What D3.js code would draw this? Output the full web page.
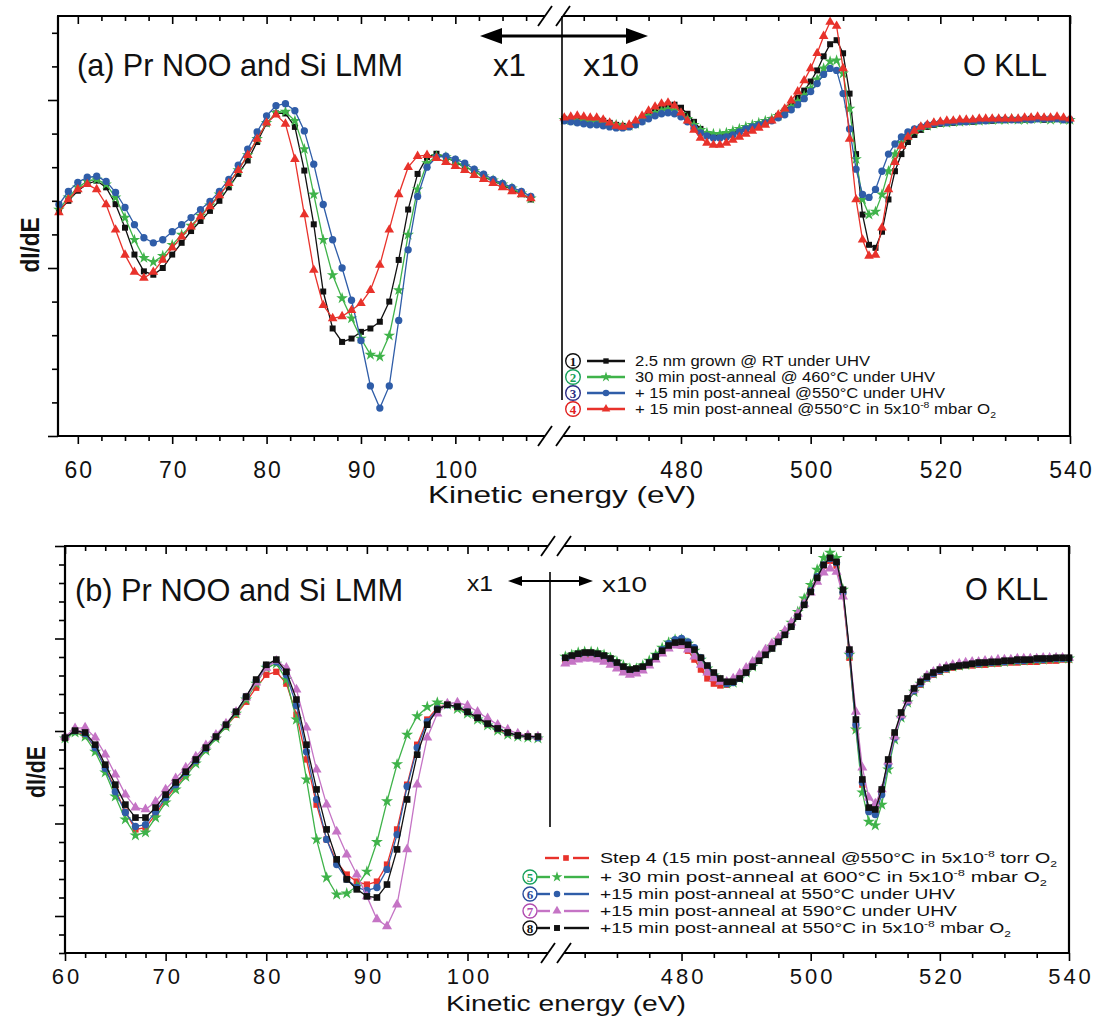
<!DOCTYPE html>
<html><head><meta charset="utf-8">
<script src="https://cdn.jsdelivr.net/npm/d3@7"></script>
<style>body{margin:0;background:#fff}svg{display:block}</style>
</head><body>
<svg id="chart" width="1095" height="1021"></svg>
<script>
// ---------------- DATA ----------------
// Energies (eV)
const energyLowA = [58,59,60,61,62,63,64,65,66,67,68,69,70,71,72,73,74,75,76,77,78,79,80,81,82,83,84,85,86,87,88,89,90,91,92,93,94,95,96,97,98,99,100,101,102,103,104,105,106,107,108];
const energyLowB = [60,61,62,63,64,65,66,67,68,69,70,71,72,73,74,75,76,77,78,79,80,81,82,83,84,85,86,87,88,89,90,91,92,93,94,95,96,97,98,99,100,101,102,103,104,105,106,107];
const energyHigh = [462,463,464,465,466,467,468,469,470,471,472,473,474,475,476,477,478,479,480,481,482,483,484,485,486,487,488,489,490,491,492,493,494,495,496,497,498,499,500,501,502,503,504,505,506,507,508,509,510,511,512,513,514,515,516,517,518,519,520,521,522,523,524,525,526,527,528,529,530,531,532,533,534,535,536,537,538,539,540];

// Panel (a) dI/dE (a.u.), Pr NOO / Si LMM region (x1)
const a1Low = [17,20,23,25,26,24,19,12,4,-1,-2,0,4,7.5,11,14,17,20,24,28,32,37.5,43,46,46,42,29,13,-7,-18,-22,-21,-19,-18,-16,-10,2.4,17.4,28,33,34,33,31.5,30,29,27,26,24.6,23.4,22,20.4];
const a2Low = [17.4,21,24,25.8,26.4,24.9,21,15,8.4,3,1.8,3.6,6.9,9.9,12.6,15.6,18.6,21.9,25.2,29.1,33.6,38.4,43.2,46.2,46.5,43.8,35.4,21.9,8.4,-2.1,-9,-15,-21,-25.8,-26.4,-20.1,-6.6,9.9,23.4,31.2,33.3,33,31.8,30.3,28.8,27.3,26.1,24.9,23.7,22.2,20.7];
const a3Low = [18.9,22.8,25.5,27,27.3,25.8,22.5,18,12.9,9,7.5,8.4,10.8,12.9,15,17.4,19.8,22.8,26.4,30.6,35.4,40.5,45.3,48.3,48.9,46.8,40.8,30.9,18.9,8.4,0,-9.6,-21.6,-35.1,-41.7,-35.1,-15.6,5.4,21.3,30,33,33.3,32.4,31.2,29.4,27.9,26.4,25.2,24,22.8,21.3];
const a4Low = [16.5,20.4,23.4,24.9,23.4,18.9,11.4,3.9,-1.2,-3,-1.2,2.4,6,9.3,12.3,15.3,18.3,21.6,25.2,29.1,33.6,38.4,43.2,45.6,42.9,32.4,15.9,-0.6,-11.1,-15,-14.4,-12.6,-10.5,-6.6,0.9,11.4,21.9,30,33.3,33.6,32.7,31.5,30.3,29.1,27.6,26.4,25.2,24,22.8,21.9,20.7];
// Panel (a) O KLL region (x10)
const a1High = [44.4,44.1,44.4,44.1,43.8,44.1,43.8,43.2,42.6,42.3,42,42.9,44.4,45.9,47.1,48,48.6,48.6,47.7,45.9,43.5,41.4,39.9,39.3,39.3,39.6,40.2,40.8,41.4,42,42.6,43.2,44.1,45.3,46.8,48.6,50.7,52.8,55.5,58.8,63,66.6,67.8,63.9,51.9,33.9,15.9,6.9,6,10.8,20.4,28.8,33.9,37.5,39.6,41.1,42,42.6,42.9,43.2,43.2,43.5,43.5,43.5,43.8,43.8,43.8,44.1,44.1,44.1,44.1,44.1,44.4,44.4,44.1,44.4,44.4,44.1,44.1];
const a2High = [44.1,44.1,43.8,43.8,43.5,43.5,43.2,42.9,42.6,42.3,42.3,42.9,44.1,45.3,46.2,46.8,47.1,46.8,45.9,44.4,42.6,41.1,40.2,39.9,39.9,40.2,40.8,41.4,42,42.6,43.2,43.8,44.4,45.3,46.5,48,49.5,51.3,53.4,56.1,59.4,61.5,61.8,57.9,47.4,32.4,20.4,15.9,16.8,21.9,28.8,33.9,37.2,39.3,40.8,41.7,42.3,42.9,43.2,43.2,43.5,43.5,43.8,43.8,43.8,44.1,44.1,44.1,44.1,44.4,44.1,44.1,44.4,44.4,44.4,44.1,44.4,44.1,44.1];
const a3High = [43.8,43.5,43.2,42.9,42.6,42.6,42.3,42,41.7,41.7,42,42.6,43.5,44.4,45.3,45.9,46.2,45.9,45,43.5,41.7,40.2,39.3,38.7,38.7,39,39.6,40.5,41.4,42,42.6,43.2,43.8,44.7,45.6,47.1,48.6,50.4,52.5,54.9,57.6,59.4,58.8,51.9,41.4,29.4,21.9,21,23.4,28.8,33.9,36.9,39,40.5,41.4,42,42.6,42.9,43.2,43.2,43.5,43.5,43.5,43.8,43.8,43.8,44.1,44.1,44.1,44.1,44.1,44.4,44.1,44.4,44.4,44.4,44.4,44.1,44.1];
const a4High = [44.7,45,45.3,45,44.7,44.7,44.1,43.2,42.3,42,42.6,43.8,45.3,46.8,48,48.9,49.2,48.3,46.2,43.8,41.1,38.7,37.2,36.6,36.6,37.2,38.1,39,39.9,40.8,41.7,42.6,43.8,45.6,47.4,49.8,52.5,55.8,59.4,63.9,69,73.2,72,59.4,38.4,20.4,8.4,3.6,3.9,12,23.4,31.5,36.3,39,40.8,42,42.6,43.2,43.5,43.8,43.8,44.1,44.1,44.1,44.4,44.4,44.4,44.4,44.4,44.4,44.4,44.7,44.7,45,44.7,44.7,45,44.7,44.4];

// Panel (b)
const b4Low = [23,24.8,24,20.5,15.1,9.2,3.2,-1.6,-1.1,2.4,6.5,10,13.2,16.7,20,23.2,26.2,29.4,32.9,36.7,40.2,41,37.8,29.4,17.3,5.1,-4.3,-10.3,-13.8,-15.7,-16.5,-15.7,-11.1,-1.6,10.5,21.3,28.1,31.3,32.1,31.3,30,28.4,26.7,25.4,24.3,23.8,23.5,23.2];
const b5Low = [23,24.6,23.5,19.4,13.8,7.3,1.1,-3.2,-2.4,1.6,5.7,9.2,12.7,16.2,19.7,23,26.2,29.7,33.5,37.8,42.1,43.2,38.9,28.1,11.9,-4.3,-14.6,-19.2,-18.9,-17,-13,-5,6,16,24,29,31.5,32.7,32.1,31,29.7,28.1,26.5,25.1,24,23.5,23.2,23];
const b6Low = [23.2,25.1,24.3,20.5,14.9,8.6,3,-0.8,-0.3,3.2,7,10.5,13.8,17,20.3,23.5,26.7,30.2,34.3,38.6,42.7,43.7,40.2,31.9,19.4,6.5,-4.3,-11.1,-15.1,-17.3,-18.1,-17.3,-12.4,-3,10,20.5,27.5,31,32.1,31.6,30.2,28.6,27,25.7,24.6,23.8,23.5,23.2];
const b7Low = [23.5,25.7,25.9,23.2,18.6,13.2,7.8,4.3,3.8,5.9,9.2,12.2,15.1,18.1,21.1,24,27,30.2,34,38.1,42.1,44,42.1,36.2,25.9,14.6,5.1,-2.2,-8.4,-13.8,-19.7,-25.9,-27.8,-21.9,-7,10.5,23.2,29.7,32.4,32.7,31.9,30.2,28.4,26.7,25.4,24.3,23.8,23.5];
const b8Low = [23.2,25.1,24.6,21.3,15.9,10.5,5.1,1.6,1.6,4.3,7.8,11.1,14,17.3,20.5,23.5,26.7,30.2,34.3,38.9,42.9,44.3,41,33.5,21.3,9.2,-1.6,-9.7,-15.1,-17.8,-19.7,-20,-16.5,-7,6.5,18.6,26.7,30.8,32.1,31.6,30.2,28.6,27,25.7,24.6,23.8,23.5,23.5];
const b4High = [44.3,44.8,45.1,45.4,45.4,45.1,44.6,43.7,42.7,41.6,40.8,41,42.1,43.2,44.8,46.4,47.8,48.3,48.1,46.7,44.3,41.6,39.2,37.8,37.3,37.5,38.3,39.4,41,42.7,44.3,45.9,47.8,49.7,51.6,53.7,56.4,59.7,63.2,66.7,69.7,71,69.7,61.6,44.8,25.9,10.5,3.8,3.5,8.6,16.7,23.8,29.2,32.9,35.6,37.5,39.2,40.2,41,41.6,42.1,42.4,42.7,42.7,42.9,42.9,43.2,43.2,43.5,43.5,43.5,43.7,43.7,43.7,44,44,44,44.3,44.3];
const b5High = [45.1,45.6,46.2,46.4,46.4,46.2,45.6,44.8,43.7,42.7,41.9,41.9,42.7,44,45.6,47.5,48.9,49.7,49.7,48.6,46.7,44.3,41.9,40,38.6,37.8,38.1,39.2,40.8,42.4,44.3,45.9,47.8,49.7,51.8,54.3,57.2,60.8,64.5,68.6,71.8,73.2,71.8,63.2,45.6,25.4,8.4,0.5,-0.5,5.1,14.6,22.7,28.6,32.7,35.6,37.8,39.4,40.5,41.3,41.9,42.4,42.7,42.9,43.2,43.2,43.5,43.5,43.7,43.7,44,44,44,44.3,44.3,44.3,44.6,44.6,44.6,44.6];
const b6High = [44.6,45.1,45.6,45.9,45.9,45.6,45.1,44.3,43.2,42.1,41.3,41.3,42.1,43.5,45.1,47,48.6,49.7,50,49.1,47.5,44.8,42.4,40.2,38.6,37.8,38.1,39.2,40.8,42.7,44.3,45.9,47.5,49.4,51.3,53.5,56.2,59.4,62.9,66.7,69.9,71.6,70.5,62.4,45.9,26.7,11.1,3.2,2.4,7.8,15.9,23.2,28.9,32.9,35.9,37.8,39.4,40.5,41.3,41.9,42.4,42.7,42.9,43.2,43.2,43.5,43.5,43.7,43.7,44,44,44,44.3,44.3,44.3,44.6,44.6,44.6,44.6];
const b7High = [43.2,43.7,44.3,44.6,44.6,44.3,43.7,42.9,41.9,40.8,40.2,40.5,41.3,42.7,44.3,45.9,47.3,48.1,48.1,47,45.1,42.9,40.8,39.2,38.3,38.3,39.2,40.5,42.1,43.7,45.4,47,48.6,50.2,52.1,54.3,56.7,59.4,62.4,65.3,67.8,68.9,68,61.3,47,30.2,15.1,7,5.4,9.2,16.7,23.5,29.2,33.2,36.2,38.3,40,41,41.9,42.4,42.9,43.2,43.5,43.7,43.7,44,44,44.3,44.3,44.3,44.6,44.6,44.6,44.6,44.8,44.8,44.8,44.8,44.8];
const b8High = [44.8,45.4,45.9,46.2,46.2,45.9,45.4,44.6,43.5,42.4,41.6,41.9,42.4,43.5,45.1,46.7,48.1,48.9,49.1,48.3,47,44.8,42.7,40.8,39.2,38.3,38.3,39.2,40.8,42.4,44,45.6,47.3,49.1,51,53.2,55.9,59.1,62.6,66.4,69.9,71.8,70.7,63.2,47,28.1,11.9,4.3,3.8,9.2,17.3,24.6,30,33.8,36.5,38.3,39.7,40.8,41.6,42.1,42.4,42.7,42.9,43.2,43.5,43.5,43.7,43.7,44,44,44.3,44.3,44.3,44.6,44.6,44.6,44.8,44.8,44.8];

// Tick values
const xMajorLowA = [60,70,80,90,100];
const xMinorLowA = [62.5,65,67.5,72.5,75,77.5,82.5,85,87.5,92.5,95,97.5,102.5,105,107.5];
const xMajorLowB = [60,70,80,90,100];
const xMinorLowB = [62,64,66,68,72,74,76,78,82,84,86,88,92,94,96,98,102,104,106];
const xMajorHigh = [480,500,520,540];
const xMinorHigh = [465,470,475,485,490,495,505,510,515,525,530,535];
const yMajorA = [-50,0,50];
const yMinorA = [-40,-30,-20,-10,10,20,30,40,60,70];
const yMajorB = [-25,0,25,50,75];
const yMinorB = [-35,-30,-20,-15,-10,-5,5,10,15,20,30,35,40,45,55,60,65,70];

// Legend labels
const legendA = [
  [["2.5 nm grown @ RT under UHV","n"]],
  [["30 min post-anneal @ 460°C under UHV","n"]],
  [["+ 15 min post-anneal @550°C under UHV","n"]],
  [["+ 15 min post-anneal @550°C  in 5x10","n"],["-8","sup"],[" mbar O","n"],["2","sub"]]
];
const legendB = [
  [["Step 4 (15 min post-anneal @550°C  in 5x10","n"],["-8","sup"],[" torr O","n"],["2","sub"]],
  [["+ 30 min post-anneal at 600°C in 5x10","n"],["-8","sup"],[" mbar O","n"],["2","sub"]],
  [["+15 min post-anneal at 550°C under UHV","n"]],
  [["+15 min post-anneal at 590°C under UHV","n"]],
  [["+15 min post-anneal at 550°C in 5x10","n"],["-8","sup"],[" mbar O","n"],["2","sub"]]
];
const stepNumbersA = ["1","2","3","4"];
const stepNumbersB = ["", "5","6","7","8"];

// ---------------- DRAWING ----------------
const svg = d3.select("#chart");
const FONT = "'Liberation Sans', Arial, Helvetica, sans-serif";
const SERIF = "'Liberation Serif', 'Times New Roman', serif";
const C = {black:"#111111", green:"#3fb34a", blue:"#2f5da8", red:"#e8322b", magenta:"#c574c5"};

const panelA = {
  top:16, bottom:436, left:58, right:1070, breakL:545, breakR:563,
  xDomL:[57.9,109.5], xDomR:[461.8,540], yDom:[-50,75],
  xMajL:xMajorLowA, xMinL:xMinorLowA, yMaj:yMajorA, yMin:yMinorA,
  eLow:energyLowA, labelY:478, labelSpacing:2, labelSize:23,
  series:[
    {low:a1Low, high:a1High, color:C.black, sym:d3.symbolSquare, size:36},
    {low:a2Low, high:a2High, color:C.green, sym:d3.symbolStar, size:42},
    {low:a3Low, high:a3High, color:C.blue, sym:d3.symbolCircle, size:42},
    {low:a4Low, high:a4High, color:C.red, sym:d3.symbolTriangle, size:40}
  ]
};
const panelB = {
  top:546, bottom:953, left:65, right:1069, breakL:548, breakR:564,
  xDomL:[60,108], xDomR:[461.8,540], yDom:[-35,75],
  xMajL:xMajorLowB, xMinL:xMinorLowB, yMaj:yMajorB, yMin:yMinorB,
  eLow:energyLowB, labelY:984, labelSpacing:3, labelSize:22,
  series:[
    {low:b4Low, high:b4High, color:C.red, sym:d3.symbolSquare, size:40},
    {low:b5Low, high:b5High, color:C.green, sym:d3.symbolStar, size:45},
    {low:b6Low, high:b6High, color:C.blue, sym:d3.symbolCircle, size:42},
    {low:b7Low, high:b7High, color:C.magenta, sym:d3.symbolTriangle, size:44},
    {low:b8Low, high:b8High, color:C.black, sym:d3.symbolSquare, size:44}
  ]
};

function axisGroup(g, gen, transform, values, size, fmt) {
  const a = g.append("g").attr("transform", transform)
    .call(gen.tickValues(values).tickSize(size).tickSizeOuter(0).tickFormat(fmt));
  a.select(".domain").remove();
  a.selectAll("line").attr("stroke", "#000").attr("stroke-width", 1.6);
  return a;
}

function drawPanel(p) {
  const g = svg.append("g");
  const xL = d3.scaleLinear().domain(p.xDomL).range([p.left, p.breakL]);
  const xR = d3.scaleLinear().domain(p.xDomR).range([p.breakR, p.right]);
  const y = d3.scaleLinear().domain(p.yDom).range([p.bottom, p.top]);

  // data
  p.series.forEach(s => {
    [[p.eLow, s.low, xL], [energyHigh, s.high, xR]].forEach(([es, vs, x]) => {
      const pts = es.map((e, i) => [e, vs[i]]);
      g.append("path").datum(pts)
        .attr("d", d3.line().x(d => x(d[0])).y(d => y(d[1])))
        .attr("fill", "none").attr("stroke", s.color).attr("stroke-width", 1.3);
      g.append("g").selectAll("path").data(pts).join("path")
        .attr("transform", d => `translate(${x(d[0])},${y(d[1])})`)
        .attr("d", d3.symbol().type(s.sym).size(s.size))
        .attr("fill", s.color);
    });
  });

  // ticks
  const noLab = () => "";
  const bMaj = axisGroup(g, d3.axisBottom(xL), `translate(0,${p.bottom})`, p.xMajL, 8, d3.format("d"));
  axisGroup(g, d3.axisBottom(xL), `translate(0,${p.bottom})`, p.xMinL, 5, noLab);
  const bMajR = axisGroup(g, d3.axisBottom(xR), `translate(0,${p.bottom})`, xMajorHigh, 8, d3.format("d"));
  axisGroup(g, d3.axisBottom(xR), `translate(0,${p.bottom})`, xMinorHigh, 5, noLab);
  axisGroup(g, d3.axisBottom(xL), `translate(0,${p.top})`, p.xMajL, 8, noLab);
  axisGroup(g, d3.axisBottom(xL), `translate(0,${p.top})`, p.xMinL, 5, noLab);
  axisGroup(g, d3.axisBottom(xR), `translate(0,${p.top})`, xMajorHigh, 8, noLab);
  axisGroup(g, d3.axisBottom(xR), `translate(0,${p.top})`, xMinorHigh, 5, noLab);
  axisGroup(g, d3.axisLeft(y), `translate(${p.left},0)`, p.yMaj, 10, noLab);
  axisGroup(g, d3.axisLeft(y), `translate(${p.left},0)`, p.yMin, 6, noLab);
  [bMaj, bMajR].forEach(a => a.selectAll("text")
    .attr("dy", null).attr("y", p.labelY - p.bottom)
    .attr("dx", p.labelSpacing / 2)
    .attr("font-family", FONT).attr("font-size", p.labelSize)
    .attr("letter-spacing", p.labelSpacing).attr("fill", "#111"));

  // frame with axis breaks
  const fr = g.append("g").attr("stroke", "#000").attr("stroke-width", 2.2).attr("fill", "none");
  [p.top, p.bottom].forEach(yy => {
    fr.append("line").attr("x1", p.left - 1).attr("x2", p.breakL).attr("y1", yy).attr("y2", yy);
    fr.append("line").attr("x1", p.breakR).attr("x2", p.right + 1).attr("y1", yy).attr("y2", yy);
    [p.breakL, p.breakR].forEach(bx => {
      fr.append("line").attr("x1", bx - 7).attr("y1", yy + 10).attr("x2", bx + 7).attr("y2", yy - 10)
        .attr("stroke-width", 1.8);
    });
  });
  fr.append("line").attr("x1", p.left).attr("x2", p.left).attr("y1", p.top).attr("y2", p.bottom);
  fr.append("line").attr("x1", p.right).attr("x2", p.right).attr("y1", p.top).attr("y2", p.bottom);
  return {xL, xR, y};
}

drawPanel(panelA);
drawPanel(panelB);

// --------- annotations ---------
function txt(x, y, s, size, opts = {}) {
  const t = svg.append("text").attr("x", x).attr("y", y).text(s)
    .attr("font-family", opts.family || FONT).attr("font-size", size)
    .attr("fill", opts.fill || "#111");
  if (opts.len) t.attr("textLength", opts.len).attr("lengthAdjust", "spacingAndGlyphs");
  if (opts.weight) t.attr("font-weight", opts.weight);
  if (opts.anchor) t.attr("text-anchor", opts.anchor);
  return t;
}
function arrow(y, x1, x2, head, half, w) {
  const g = svg.append("g");
  g.append("line").attr("x1", x1 + head - 2).attr("x2", x2 - head + 2).attr("y1", y).attr("y2", y)
    .attr("stroke", "#000").attr("stroke-width", w);
  g.append("path").attr("d", `M${x1},${y}L${x1 + head},${y - half}L${x1 + head},${y + half}Z`).attr("fill", "#000");
  g.append("path").attr("d", `M${x2},${y}L${x2 - head},${y - half}L${x2 - head},${y + half}Z`).attr("fill", "#000");
}

// Panel (a)
txt(77, 76, "(a) Pr NOO and Si LMM", 32, {len: 326});
txt(493, 76, "x1", 32, {len: 33});
txt(583, 76, "x10", 32, {len: 56});
txt(963, 76, "O KLL", 32, {len: 84});
arrow(36, 480, 648, 22, 8, 3.2);
svg.append("line").attr("x1", 562).attr("x2", 562).attr("y1", 16).attr("y2", 400)
  .attr("stroke", "#000").attr("stroke-width", 1.6);
txt(428, 503, "Kinetic energy (eV)", 24, {len: 268});
svg.append("text").attr("transform", "translate(39,245) rotate(-90)")
  .attr("text-anchor", "middle").attr("font-family", FONT).attr("font-size", 26)
  .attr("font-weight", "bold").attr("textLength", 55).attr("lengthAdjust", "spacingAndGlyphs")
  .attr("fill", "#111").text("dI/dE");

// Panel (b)
txt(75, 601, "(b) Pr NOO and Si LMM", 32, {len: 328});
txt(467, 591, "x1", 22, {len: 26});
txt(602, 592, "x10", 22, {len: 45});
txt(965, 600, "O KLL", 32, {len: 83});
arrow(581, 508, 593, 14, 5, 2);
svg.append("line").attr("x1", 550).attr("x2", 550).attr("y1", 572).attr("y2", 827)
  .attr("stroke", "#000").attr("stroke-width", 1.6);
txt(446, 1011, "Kinetic energy (eV)", 22, {len: 240});
svg.append("text").attr("transform", "translate(45,772) rotate(-90)")
  .attr("text-anchor", "middle").attr("font-family", FONT).attr("font-size", 26)
  .attr("font-weight", "bold").attr("textLength", 52).attr("lengthAdjust", "spacingAndGlyphs")
  .attr("fill", "#111").text("dI/dE");

// --------- legends ---------
function richText(x, y, parts, size, len) {
  const t = svg.append("text").attr("x", x).attr("y", y)
    .attr("font-family", FONT).attr("font-size", size).attr("fill", "#111");
  let prev = "n";
  parts.forEach(([s, kind]) => {
    const ts = t.append("tspan").text(s);
    let dy = 0;
    if (kind === "sup") { dy = -6; ts.attr("font-size", size * 0.62); }
    else if (kind === "sub") { dy = 4; ts.attr("font-size", size * 0.62); }
    if (prev === "sup") dy += 6;
    if (prev === "sub") dy -= 4;
    if (dy) ts.attr("dy", dy);
    prev = kind;
  });
  if (len) t.attr("textLength", len).attr("lengthAdjust", "spacingAndGlyphs");
  return t;
}
function circledNum(cx, cy, r, num, color) {
  svg.append("circle").attr("cx", cx).attr("cy", cy).attr("r", r)
    .attr("fill", "#fff").attr("stroke", color).attr("stroke-width", 1.4);
  svg.append("text").attr("x", cx).attr("y", cy + 4.6).attr("text-anchor", "middle")
    .attr("font-family", SERIF).attr("font-weight", "bold").attr("font-size", 13)
    .attr("fill", color).text(num);
}

// legend (a)
const legColorsA = ["#111", "#17a05a", "#2b2d84", "#e0201f"];
const legRowsA = [361, 377, 393, 409];
const legLenA = [235, 300, 310, 361];
panelA.series.forEach((s, i) => {
  const yy = legRowsA[i];
  circledNum(573, yy, 7.3, stepNumbersA[i], legColorsA[i]);
  svg.append("line").attr("x1", 587).attr("x2", 625).attr("y1", yy).attr("y2", yy)
    .attr("stroke", s.color).attr("stroke-width", 2.4);
  svg.append("path").attr("transform", `translate(606,${yy})`)
    .attr("d", d3.symbol().type(s.sym).size(s.size * 0.8)).attr("fill", s.color);
  richText(635, yy + 5, legendA[i], 15, legLenA[i]);
});

// legend (b)
const legColorsB = ["#e8322b", "#17a05a", "#2a4c9c", "#b04cb0", "#111"];
const legRowsB = [858, 877, 894, 911, 928];
const legLenB = [457, 447, 355, 357, 411];
panelB.series.forEach((s, i) => {
  const yy = legRowsB[i];
  let mx, a1, b2;
  if (i === 0) { mx = 566; a1 = 545; b2 = 589; }
  else { mx = 557; a1 = 536; b2 = 589; circledNum(530, yy, 7, stepNumbersB[i], legColorsB[i]); }
  svg.append("line").attr("x1", a1).attr("x2", mx - 7).attr("y1", yy).attr("y2", yy)
    .attr("stroke", s.color).attr("stroke-width", 2.4);
  svg.append("line").attr("x1", mx + 7).attr("x2", b2).attr("y1", yy).attr("y2", yy)
    .attr("stroke", s.color).attr("stroke-width", 2.4);
  svg.append("path").attr("transform", `translate(${mx},${yy})`)
    .attr("d", d3.symbol().type(s.sym).size(s.size * 0.8)).attr("fill", s.color);
  richText(600, yy + 5, legendB[i], 15, legLenB[i]);
});
</script>
</body></html>
